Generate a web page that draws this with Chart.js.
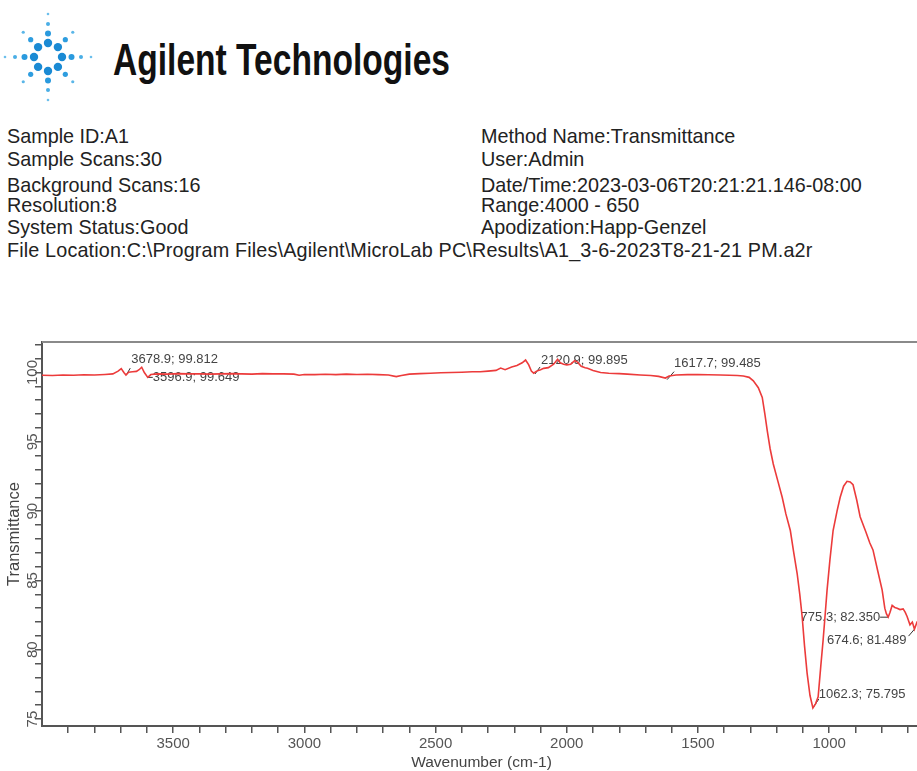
<!DOCTYPE html>
<html>
<head>
<meta charset="utf-8">
<script src="https://cdn.jsdelivr.net/npm/chart.js@4.4.1/dist/chart.umd.min.js"></script>
<style>
html, body { margin: 0; padding: 0; background: #fff; overflow: hidden; width: 917px; height: 771px; }
#page { position: relative; width: 917px; height: 771px; overflow: hidden; font-family: "Liberation Sans", Arial, sans-serif; color: #222; }
.info { position: absolute; font-size: 19.8px; line-height: 19.8px; white-space: nowrap; }
#brand { position: absolute; left: 113px; top: 38px; font-family: "Liberation Sans Narrow", "Arial Narrow", "Liberation Sans", sans-serif; font-weight: bold; font-size: 44px; line-height: 44px; color: #111; transform-origin: left top; white-space: nowrap; }
#logo { position: absolute; left: 0; top: 0; }
#spectrum { position: absolute; left: 0; top: 320px; }
</style>
</head>
<body>
<div id="page">
  <svg id="logo" width="100" height="110"></svg>
  <div id="brand">Agilent Technologies</div>
  <div class="info" style="left:7px;top:127px">Sample ID:A1</div>
  <div class="info" style="left:7px;top:150px">Sample Scans:30</div>
  <div class="info" style="left:7px;top:176px">Background Scans:16</div>
  <div class="info" style="left:7px;top:196px">Resolution:8</div>
  <div class="info" style="left:7px;top:218px">System Status:Good</div>
  <div class="info" style="left:7px;top:241px;letter-spacing:0.15px">File Location:C:\Program Files\Agilent\MicroLab PC\Results\A1_3-6-2023T8-21-21 PM.a2r</div>
  <div class="info" style="left:481px;top:127px">Method Name:Transmittance</div>
  <div class="info" style="left:481px;top:150px">User:Admin</div>
  <div class="info" style="left:481px;top:176px">Date/Time:2023-03-06T20:21:21.146-08:00</div>
  <div class="info" style="left:481px;top:196px">Range:4000 - 650</div>
  <div class="info" style="left:481px;top:218px">Apodization:Happ-Genzel</div>
  <canvas id="spectrum" width="921" height="451"></canvas>
</div>
<script>
// spectrum (cm-1, %T)
const wavenumbers = [
  4000, 3960, 3920, 3880, 3840, 3800, 3760, 3730, 3710, 3698, 3688, 3680, 3670, 3655, 3640, 3630, 3620, 3610, 3597, 3585,
  3560, 3520, 3480, 3440, 3400, 3360, 3320, 3280, 3240, 3200, 3160, 3120, 3080, 3040, 3020, 3000, 2960, 2920, 2880, 2840,
  2800, 2760, 2720, 2680, 2650, 2630, 2600, 2560, 2520, 2480, 2440, 2400, 2360, 2330, 2300, 2270, 2252, 2235, 2210, 2190,
  2170, 2157, 2145, 2135, 2126, 2115, 2100, 2088, 2070, 2050, 2035, 2025, 2012, 2000, 1985, 1970, 1959, 1945, 1930, 1921,
  1900, 1871, 1840, 1800, 1769, 1720, 1680, 1650, 1624, 1610, 1584, 1540, 1500, 1460, 1415, 1380, 1350, 1327, 1305, 1289,
  1270, 1255, 1245, 1236, 1225, 1213, 1196, 1179, 1165, 1148, 1135, 1122, 1112, 1103, 1094, 1084, 1073, 1062, 1052, 1042,
  1032, 1023, 1015, 1008, 997, 985, 970, 958, 945, 932, 920, 909, 895, 882, 860, 845, 833, 815, 798, 788,
  782, 775, 768, 760, 750, 741, 730, 718, 710, 703, 692, 683, 675, 665, 655, 650
];
const transmittance = [
  99.80, 99.78, 99.82, 99.80, 99.84, 99.82, 99.86, 99.90, 100.10, 100.28, 100.00, 99.82, 100.02, 100.05, 100.08, 100.20, 100.38, 100.00, 99.65, 99.85,
  99.90, 99.88, 99.92, 99.90, 99.90, 99.88, 99.90, 99.92, 99.90, 99.88, 99.92, 99.90, 99.90, 99.88, 99.80, 99.86, 99.85, 99.87, 99.85, 99.88,
  99.86, 99.87, 99.85, 99.82, 99.70, 99.78, 99.88, 99.92, 99.95, 99.98, 100.00, 100.02, 100.05, 100.05, 100.10, 100.15, 100.32, 100.20, 100.40, 100.50,
  100.70, 100.90, 100.55, 100.10, 99.95, 100.10, 100.20, 100.30, 100.35, 100.60, 100.95, 100.70, 100.60, 100.55, 100.60, 100.85, 100.75, 100.45, 100.35, 100.30,
  100.15, 100.00, 99.95, 99.92, 99.88, 99.82, 99.78, 99.72, 99.60, 99.75, 99.82, 99.85, 99.85, 99.84, 99.82, 99.80, 99.78, 99.75, 99.65, 99.40,
  98.90, 98.20, 97.00, 95.80, 94.50, 93.40, 92.20, 91.00, 89.80, 88.60, 87.00, 85.50, 84.00, 82.40, 80.30, 78.30, 76.70, 75.80, 76.10, 76.60,
  78.80, 80.70, 82.60, 84.30, 86.50, 88.60, 90.00, 91.00, 91.80, 92.15, 92.10, 91.90, 90.80, 89.60, 88.50, 87.70, 87.20, 85.70, 84.30, 83.00,
  82.60, 82.35, 82.70, 83.20, 83.05, 83.00, 82.90, 82.95, 82.70, 82.40, 81.80, 82.00, 81.49, 82.00, 82.20, 82.10
];

// picked peaks as printed on the report
const peakWn = [3678.9, 3596.9, 2120.9, 1617.7, 1062.3, 775.3, 674.6];
const peakT = [99.812, 99.649, 99.895, 99.485, 75.795, 82.350, 81.489];

const xTicks = [3900, 3800, 3700, 3600, 3500, 3400, 3300, 3200, 3100, 3000, 2900, 2800, 2700, 2600, 2500, 2400, 2300,
  2200, 2100, 2000, 1900, 1800, 1700, 1600, 1500, 1400, 1300, 1200, 1100, 1000, 900, 800, 700];
const xLabels = [3500, 3000, 2500, 2000, 1500, 1000];
const yTicks = [75, 76, 77, 78, 79, 80, 81, 82, 83, 84, 85, 86, 87, 88, 89, 90, 91, 92, 93, 94, 95, 96, 97, 98, 99, 100, 101, 102];
const yLabels = [75, 80, 85, 90, 95, 100];

// logo: blue starburst
(function drawLogo() {
  const svg = document.getElementById('logo');
  const cx = 48, cy = 57;
  let out = '';
  for (let k = 0; k < 8; k++) {
    const a = k * Math.PI / 4;
    const straight = k % 2 === 0;
    const dots = straight
      ? [[14, 4.2, '#1a8ad4'], [23.5, 3.0, '#2a9ade'], [33, 2.0, '#4aaee6'], [43, 1.3, '#6cbfec']]
      : [[14, 4.2, '#1a8ad4'], [24.5, 2.6, '#2e9ddf'], [35, 1.6, '#5ab6e8']];
    dots.forEach(([r, s, c]) => {
      out += `<circle cx="${cx + r * Math.cos(a)}" cy="${cy + r * Math.sin(a)}" r="${s}" fill="${c}"/>`;
    });
  }
  svg.innerHTML = out;
})();

const brand = document.getElementById('brand');
brand.style.transform = `scaleX(${337 / brand.getBoundingClientRect().width})`;

const annot = [
  { dx: 5, dy: -16, align: 'left', lx: 4, ly: -7 },
  { dx: 5, dy: 0, align: 'left', lx: 5, ly: 0 },
  { dx: 6, dy: -14, align: 'left', lx: 5, ly: -7 },
  { dx: 7, dy: -16, align: 'left', lx: 7, ly: -8 },
  { dx: 6, dy: -14, align: 'left', lx: 6, ly: -9 },
  { dx: -8, dy: 0, align: 'right', lx: -8, ly: 0 },
  { dx: -8, dy: 11, align: 'right', lx: -6, ly: 7 }
];

const peakLabels = {
  id: 'peakLabels',
  beforeDatasetsDraw(chart) {
    const ctx = chart.ctx;
    const xs = chart.scales.x, ys = chart.scales.y;
    ctx.save();
    ctx.font = '13px "Liberation Sans", Arial, sans-serif';
    ctx.fillStyle = '#444';
    ctx.strokeStyle = '#333';
    ctx.lineWidth = 1;
    ctx.textBaseline = 'middle';
    peakWn.forEach((wn, i) => {
      const px = xs.getPixelForValue(wn);
      const py = ys.getPixelForValue(peakT[i]);
      const a = annot[i];
      ctx.beginPath();
      ctx.moveTo(px, py);
      ctx.lineTo(px + a.lx, py + a.ly);
      ctx.stroke();
      ctx.textAlign = a.align;
      ctx.fillText(`${wn.toFixed(1)}; ${peakT[i].toFixed(3)}`, px + a.dx, py + a.dy);
    });
    ctx.restore();
  },
  afterDraw(chart) {
    const ctx = chart.ctx, area = chart.chartArea;
    ctx.save();
    ctx.strokeStyle = '#8a8a8a';
    ctx.lineWidth = 2;
    ctx.beginPath();
    ctx.moveTo(area.left, area.top);
    ctx.lineTo(area.right, area.top);
    ctx.stroke();
    ctx.restore();
  }
};

new Chart(document.getElementById('spectrum'), {
  type: 'line',
  data: {
    datasets: [{
      data: wavenumbers.map((w, i) => ({ x: w, y: transmittance[i] })),
      borderColor: '#ec3b3b',
      borderWidth: 1.6,
      pointRadius: 0,
      tension: 0
    }]
  },
  options: {
    responsive: false,
    animation: false,
    devicePixelRatio: 1,
    layout: { padding: { top: 22, left: 0, right: 0, bottom: 0 } },
    plugins: { legend: { display: false }, tooltip: { enabled: false } },
    scales: {
      x: {
        type: 'linear',
        reverse: true,
        min: 650,
        max: 4000,
        afterBuildTicks: (scale) => { scale.ticks = xTicks.map(v => ({ value: v })); },
        afterFit: (scale) => { scale.height = 45; },
        grid: { drawOnChartArea: false, drawTicks: true, tickLength: 7, color: '#555', lineWidth: 1.5 },
        border: { color: '#555', width: 2 },
        ticks: {
          autoSkip: false,
          maxRotation: 0,
          padding: 2,
          color: '#555',
          font: { family: '"Liberation Sans", Arial, sans-serif', size: 15 },
          callback: (v) => xLabels.includes(v) ? String(v) : ''
        },
        title: {
          display: true,
          text: 'Wavenumber (cm-1)',
          color: '#444',
          font: { family: '"Liberation Sans", Arial, sans-serif', size: 15.5 },
          padding: { top: 0, bottom: -1 }
        }
      },
      y: {
        min: 74.5,
        max: 102.2,
        afterBuildTicks: (scale) => { scale.ticks = yTicks.map(v => ({ value: v })); },
        afterFit: (scale) => { scale.width = 42; },
        grid: { drawOnChartArea: false, drawTicks: true, tickLength: 7, color: '#555', lineWidth: 1.5 },
        border: { color: '#555', width: 2 },
        ticks: {
          autoSkip: false,
          minRotation: 90,
          maxRotation: 90,
          crossAlign: 'center',
          padding: -10,
          color: '#555',
          font: { family: '"Liberation Sans", Arial, sans-serif', size: 15 },
          callback: (v) => yLabels.includes(v) ? String(v) : ''
        },
        title: {
          display: true,
          text: 'Transmittance',
          color: '#444',
          font: { family: '"Liberation Sans", Arial, sans-serif', size: 16.5 },
          padding: { top: 5, bottom: 0 }
        }
      }
    }
  },
  plugins: [peakLabels]
});
</script>
</body>
</html>
